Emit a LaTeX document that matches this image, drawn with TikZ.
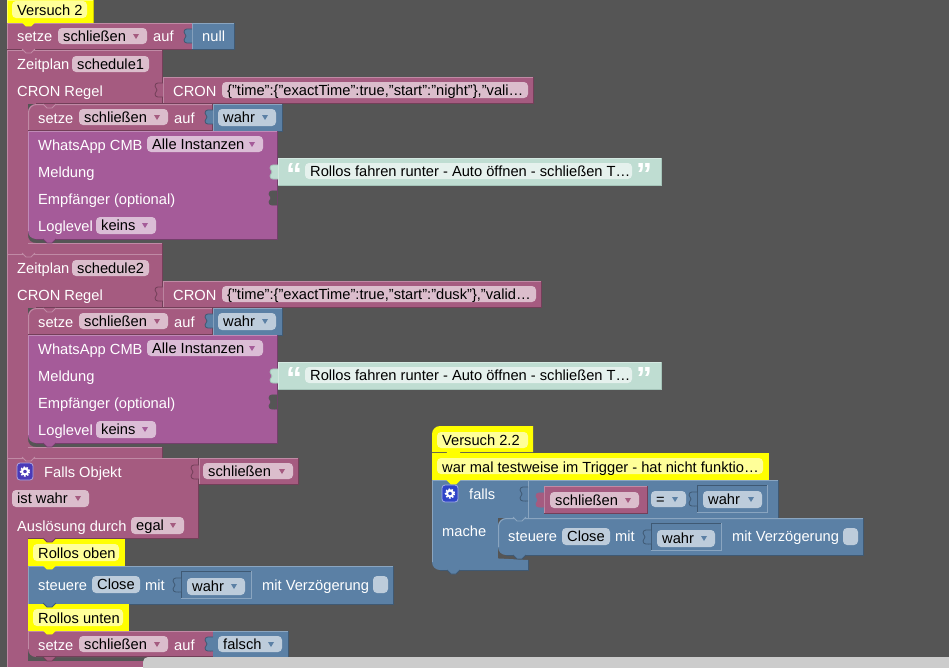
\documentclass[tikz,border=0pt]{standalone}
\usepackage{fontspec}
\setmainfont{Liberation Sans}
\definecolor{bg}{HTML}{555555}
\definecolor{bgicon}{HTML}{4A3AB8}\definecolor{blueicon}{HTML}{2F45C8}
\definecolor{pk}{HTML}{A55B80}\definecolor{pkL}{HTML}{C08AA5}\definecolor{pkD}{HTML}{733F59}\definecolor{pkF}{HTML}{DBBDCC}
\definecolor{bl}{HTML}{5B80A5}\definecolor{blL}{HTML}{8AA5C0}\definecolor{blD}{HTML}{3F5973}\definecolor{blF}{HTML}{BDCCDB}
\definecolor{pu}{HTML}{A55B99}\definecolor{puL}{HTML}{C08AB7}\definecolor{puD}{HTML}{733F6B}\definecolor{puF}{HTML}{DBBDD6}
\definecolor{gr}{HTML}{BFDDD2}\definecolor{grL}{HTML}{D5E9E2}\definecolor{grD}{HTML}{A5C4B9}\definecolor{grF}{HTML}{E5F1ED}
\definecolor{ye}{HTML}{FFFF00}\definecolor{yeL}{HTML}{FFFF66}\definecolor{yeD}{HTML}{CCCC00}\definecolor{yeF}{HTML}{FFFF99}
\tikzset{
  lbl/.style={anchor=base west,inner sep=0pt,text=white,font=\fontsize{14.67}{16}\selectfont},
  ftx/.style={anchor=base west,inner sep=0pt,text=black,font=\fontsize{14.67}{16}\selectfont},
  edge/.style={line width=1pt}
}
% corner pieces: x y
\newcommand\ctl[2]{(#1,#2+8) .. controls (#1,#2+3.6) and (#1+3.6,#2) .. (#1+8,#2)}
\newcommand\cbl[2]{(#1+8,#2) .. controls (#1+3.6,#2) and (#1,#2-3.6) .. (#1,#2-8)}
% block rectangle: x1 y1 x2 y2 colour
\newcommand\blk[5]{\fill[#5] (#1,#2) rectangle (#3,#4);
  \draw[#5L,edge] (#1+.5,#4) -- (#1+.5,#2+.5) -- (#3,#2+.5);
  \draw[#5D,edge] (#1,#4) -- (#3,#4) -- (#3,#2);}
% the same with a rounded top-left corner
\newcommand\rblk[5]{\fill[#5] (#3,#2) -- (#3,#4) -- (#1,#4) -- \ctl{#1}{#2} -- cycle;
  \draw[#5L,edge] (#1+.5,#4) -- \ctl{#1+.5}{#2+.5} -- (#3,#2+.5);
  \draw[#5D,edge] (#1,#4-.5) -- (#3-.5,#4-.5) -- (#3-.5,#2);}
% rounded top-left and bottom-left corners
\newcommand\rrblk[5]{\fill[#5] (#3,#2) -- (#3,#4) -- \cbl{#1}{#4} -- \ctl{#1}{#2} -- cycle;
  \draw[#5L,edge] (#1+.5,#4-8) -- \ctl{#1+.5}{#2+.5} -- (#3,#2+.5);
  \draw[#5D,edge] (#1+8,#4) -- (#3,#4) -- (#3,#2);}
% notch below a block: x y fill line
\newcommand\notch[4]{\path[fill=#3,draw=#4,line width=.8pt] (#1+15,#2) -- (#1+19,#2+4) -- (#1+24,#2+4) -- (#1+28,#2);}
% puzzle tab: edge x, top y, fill, line
\newcommand\tabp[4]{\path[fill=#3,draw=#4,line width=.8pt] (#1,#2) .. controls (#1-3,#2) and (#1-8,#2-1) .. (#1-8,#2+3)
  -- (#1-6,#2+7) -- (#1-8,#2+11) .. controls (#1-8,#2+15) and (#1-3,#2+14) .. (#1,#2+14);}
% field: x1 y1 x2 y2 fill text
\newcommand\fld[6]{\fill[#5,rounded corners=4] (#1,#2) rectangle (#3,#4);
  \node[ftx] at (#1+5,#2+13.6) {#6};}
% dropdown field: also triangle colour
\newcommand\dfld[7]{\fld{#1}{#2}{#3}{#4}{#5}{#6}
  \fill[#7] (#3-14,#2+6) -- (#3-8,#2+6) -- (#3-11,#2+11) -- cycle;}
\newcommand\lab[3]{\node[lbl] at (#1,#2) {#3};}
% outlined shadow block: x1 y1 x2 y2
\newcommand\shad[4]{\fill[bl] (#1,#2) rectangle (#3,#4);
  \draw[blD,edge] (#1+.5,#4) -- (#1+.5,#2+.5) -- (#3,#2+.5);
  \draw[blL,edge] (#1,#4-.5) -- (#3-.5,#4-.5) -- (#3-.5,#2);
  \tabp{#1}{#2+7}{bl}{blD}}
% gear: x y fill
\newcommand\gearicon[3]{\draw[#3!45!white,fill=#3,rounded corners=3,line width=.8pt] (#1,#2) rectangle (#1+16,#2+17);
  \draw[white,line width=1.6pt,dash pattern=on 1.6pt off 1.5pt] (#1+8,#2+8.5) circle[radius=4.4];
  \draw[white,line width=2pt] (#1+8,#2+8.5) circle[radius=3];}
% schedule block
\newcommand\zeit[5]{\begin{scope}[shift={(0,#1)}]
  \fill[pk] (7,50) rectangle (162,104);
  \fill[pk] (7,104) rectangle (28,254);
  \fill[pk] (7,243) rectangle (162,254);
  \fill[pk] (28,235) -- (28,243) -- (36,243) .. controls (31,243) and (28,240) .. cycle;
  \draw[pkL,edge] (7.5,254) -- (7.5,50.5) -- (162,50.5);
  \draw[pkD,edge] (162,50) -- (162,103.5) -- (36,103.5);
  \draw[pkL,edge] (28,243.5) -- (162,243.5);
  \draw[pkD,edge] (162,243) -- (162,254);
  \lab{17}{69}{Zeitplan}
  \fld{72}{56}{149}{72}{pkF}{#2}
  \lab{17}{96}{CRON Regel}
  \blk{163}{77}{#4}{103}{pk}
  \tabp{163}{83}{pk}{pkD}
  \lab{173}{96}{CRON}
  \fld{222}{82}{#5}{98}{pkF}{#3}
  \rblk{28}{104}{213}{131}{pk}
  \notch{28}{104}{pk}{pkL}
  \lab{38}{123}{setze}
  \dfld{79}{109}{168}{125}{pkF}{schließen}{pk}
  \lab{174}{123}{auf}
  \blk{213}{104}{282}{131}{bl}
  \tabp{213}{110}{bl}{blD}
  \dfld{218}{109}{276}{126}{blF}{wahr}{bl}
  \fill[pu] (277,131) -- (277,239) -- \cbl{28}{239} -- (28,131) -- cycle;
  \draw[puL,edge] (28.5,231) -- (28.5,131.5) -- (277,131.5);
  \draw[puD,edge] (36,239) -- (277,239) -- (277,131);
  \notch{28}{239}{pu}{puD}
  \lab{38}{150}{WhatsApp CMB}
  \dfld{147}{136}{263}{152}{puF}{Alle Instanzen}{pu}
  \lab{38}{177}{Meldung}
  \lab{38}{204}{Empfänger (optional)}
  \lab{38}{231}{Loglevel}
  \dfld{96}{217}{156}{234}{puF}{keins}{pu}
  \blk{278}{158}{661}{185}{gr}
  \tabp{278}{165}{gr}{grD}
  \node[lbl,font=\fontsize{32}{32}\bfseries\selectfont] at (286,185) {“};
  \node[lbl,font=\fontsize{32}{32}\bfseries\selectfont] at (636,185) {”};
  \fld{305}{163}{632}{179}{grF}{Rollos fahren runter - Auto öffnen - schließen T…}
  \tabp{277}{191}{bg}{bg}
\end{scope}}

\begin{document}
\begin{tikzpicture}[x=1pt,y=-1pt]
\useasboundingbox (0,0) rectangle (949,667);
\fill[bg] (0,0) rectangle (949,667);

% Versuch 2
\blk{7}{0}{93}{23}{ye}
\fill[yeF,rounded corners=4] (12,1) rectangle (87,18);
\node[ftx] at (17,15) {Versuch 2};
\blk{7}{23}{192}{49}{pk}
\notch{7}{22}{ye}{ye}
\lab{17}{41}{setze}
\dfld{58}{28}{147}{44}{pkF}{schließen}{pk}
\lab{153}{41}{auf}
\blk{192}{23}{234}{49}{bl}
\tabp{192}{29}{bl}{blD}
\lab{202}{41}{null}

\zeit{0}{schedule1}{\{"time":\{"exactTime":true,"start":"night"\},"vali…}{533}{528}
\notch{7}{49}{pk}{pkL}
\zeit{204}{schedule2}{\{"time":\{"exactTime":true,"start":"dusk"\},"valid…}{541}{536}
\notch{7}{253}{pk}{pkL}

% Falls Objekt
\fill[pk] (7,458) rectangle (198,538);
\fill[pk] (7,538) rectangle (28,667);
\fill[pk] (7,661) rectangle (143,667);
\draw[pkL,edge] (7.5,667) -- (7.5,458.5) -- (198,458.5);
\draw[pkD,edge] (198,458) -- (198,538.5) -- (28,538.5);
\notch{7}{457}{pk}{pkL}
\gearicon{17}{463}{bgicon}
\lab{44}{477}{Falls Objekt}
\blk{199}{458}{298}{484}{pk}
\tabp{199}{465}{pk}{pkD}
\dfld{203}{463}{293}{479}{pkF}{schließen}{pk}
\dfld{12}{490}{89}{507}{pkF}{ist wahr}{pk}
\lab{17}{531}{Auslösung durch}
\dfld{131}{517}{184}{534}{pkF}{egal}{pk}

\fill[ye] (28,539) rectangle (125,566);
\fill[yeF,rounded corners=4] (33,544) rectangle (119,561);
\node[ftx] at (38,558) {Rollos oben};
\notch{28}{538}{pk}{pkD}
\blk{28}{566}{393}{604}{bl}
\notch{28}{565}{ye}{ye}
\lab{38}{590}{steuere}
\fld{92}{576}{140}{593}{blF}{Close}
\lab{145}{590}{mit}
\shad{181}{571}{252}{599}
\dfld{187}{578}{245}{595}{blF}{wahr}{bl}
\lab{262}{590}{mit Verzögerung}
\fill[blF,rounded corners=4] (373,576) rectangle (388,593);
\fill[ye] (28,604) rectangle (129,631);
\fill[yeF,rounded corners=4] (33,609) rectangle (123,626);
\node[ftx] at (38,623) {Rollos unten};
\notch{28}{603}{bl}{blD}
\fill[pk] (213,631) -- (213,657) -- \cbl{28}{657} -- (28,631) -- cycle;
\draw[pkD,edge] (36,656.5) -- (213,656.5);
\draw[pkL,edge] (28.5,649) -- (28.5,631.5) -- (213,631.5);
\notch{28}{630}{ye}{ye}
\notch{28}{657}{pk}{pkD}
\lab{38}{650}{setze}
\dfld{79}{636}{168}{652}{pkF}{schließen}{pk}
\lab{174}{650}{auf}
\fill[bl] (213,631) rectangle (288,660);
\draw[blL,edge] (213,631.5) -- (288,631.5);
\draw[blD,edge] (288,631) -- (288,660);
\tabp{213}{637}{bl}{blD}
\dfld{218}{636}{282}{652}{blF}{falsch}{bl}
\fill[white!80!black,rounded corners=5] (143,657) rectangle (955,675);

% Versuch 2.2
\fill[ye] \ctl{432}{426} -- (533,426) -- (533,452) -- (432,452) -- cycle;
\fill[yeF,rounded corners=4] (437,432) rectangle (528,448);
\node[ftx] at (442,445) {Versuch 2.2};
\fill[ye] (432,453) rectangle (769,480);
\notch{432}{452}{ye}{ye}
\fill[yeF,rounded corners=4] (437,458) rectangle (763,474);
\node[ftx] at (442,472) {war mal testweise im Trigger - hat nicht funktio…};
\fill[bl] (432,480) rectangle (778,518);
\fill[bl] (432,518) rectangle (498,560);
\fill[bl] (528,560) -- (528,570) -- \cbl{432}{570} -- (432,555) -- cycle;
\draw[blL,edge] (432.5,562) -- (432.5,480.5) -- (778,480.5);
\draw[blD,edge] (778,480) -- (778,517.5);
\draw[blD,edge] (440,570) -- (528,570) -- (528,560);
\draw[blL,edge] (528.5,480) -- (528.5,518);
\notch{432}{570}{bl}{blD}
\notch{432}{480}{ye}{ye}
\tabp{528}{487}{bl}{blD}
\gearicon{442}{485}{blueicon}
\lab{469}{499}{falls}
\lab{442}{536}{mache}
\blk{544}{486}{647}{513}{pk}
\tabp{544}{493}{pk}{pk}
\dfld{550}{492}{639}{508}{pkF}{schließen}{pk}
\dfld{651}{491}{686}{507}{blF}{=}{bl}
\shad{697}{485}{768}{513}
\dfld{703}{491}{762}{508}{blF}{wahr}{bl}
\rrblk{498}{518}{863}{555}{bl}
\notch{498}{517}{bl}{blL}
\notch{498}{555}{bl}{blD}
\lab{508}{541}{steuere}
\fld{562}{528}{610}{545}{blF}{Close}
\lab{615}{541}{mit}
\shad{651}{523}{722}{551}
\dfld{657}{530}{715}{547}{blF}{wahr}{bl}
\lab{732}{541}{mit Verzögerung}
\fill[blF,rounded corners=4] (843,528) rectangle (858,545);
\end{tikzpicture}
\end{document}
